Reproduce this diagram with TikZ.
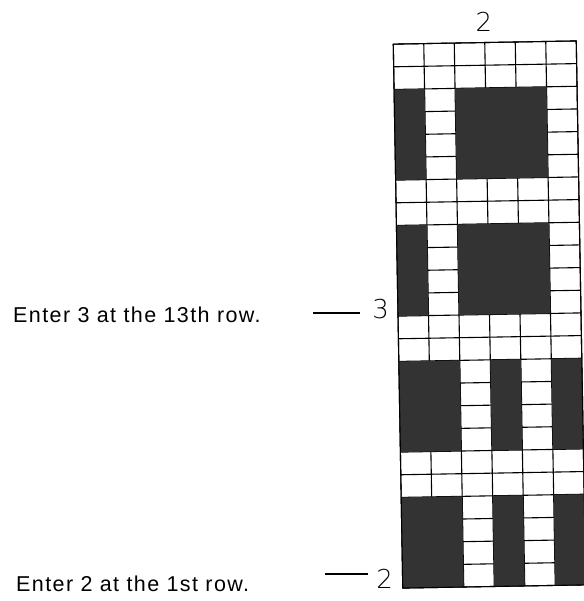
\documentclass[tikz,border=0pt]{standalone}
\usepackage{fontspec}
\setmainfont{Liberation Sans}
\newfontfamily\notefont[LetterSpace=6.5]{Liberation Sans}
\newfontfamily\digitfont{DejaVuSans-ExtraLight.ttf}
\begin{document}
\begin{tikzpicture}[x=1bp,y=-1bp,
  gridline/.style={line width=1.1bp, draw=black},
  darkcell/.style={fill=black!80},
  note/.style={inner sep=0pt, anchor=base west, font=\notefont\fontsize{21.5bp}{25bp}\selectfont},
  digit/.style={inner sep=0pt, font=\digitfont\fontsize{26bp}{30bp}\selectfont},
  leader/.style={line width=1.1bp, draw=black}]
\useasboundingbox (0,0) rectangle (584,601);
\fill[white] (0,0) rectangle (584,601);
\newcommand\darkblock[4]{\fill[darkcell] ({398+(#1)*30.5},{42.5+(#2)*22.667}) rectangle ({398+(#3)*30.5},{42.5+(#4)*22.667});}
\begin{scope}[rotate around={1:(489.5,314.5)}]
  \foreach \i in {0,...,6} \draw[gridline] ({398+\i*30.5},42.5) -- ({398+\i*30.5},586.5);
  \foreach \j in {0,...,24} \draw[gridline] (398,{42.5+\j*22.667}) -- (581,{42.5+\j*22.667});
  \foreach \r in {2,8} {
    \darkblock{0}{\r}{1}{\r+4}
    \darkblock{2}{\r}{5}{\r+4}
  }
  \foreach \r in {14,20} {
    \darkblock{0}{\r}{2}{\r+4}
    \darkblock{3}{\r}{4}{\r+4}
    \darkblock{5}{\r}{6}{\r+4}
  }
  \draw[gridline] (398,42.5) rectangle (581,586.5);
\end{scope}
\node[digit, anchor=base] (top) at (484,32) {2};
\node[digit, anchor=base east] (lab3) at (389,318) {3};
\node[digit, anchor=base east] (lab2) at (393,588) {2};
\node[note] (t1) at (13,322) {Enter 3 at the 13th row.};
\node[note] (t2) at (16,591) {Enter 2 at the 1st row.};
\coordinate (d3a) at (313,313);
\coordinate (d3b) at (360,313);
\coordinate (d2a) at (325,574);
\coordinate (d2b) at (368,574);
\draw[leader] (d3a) -- (d3b);
\draw[leader] (d2a) -- (d2b);
\end{tikzpicture}
\end{document}
